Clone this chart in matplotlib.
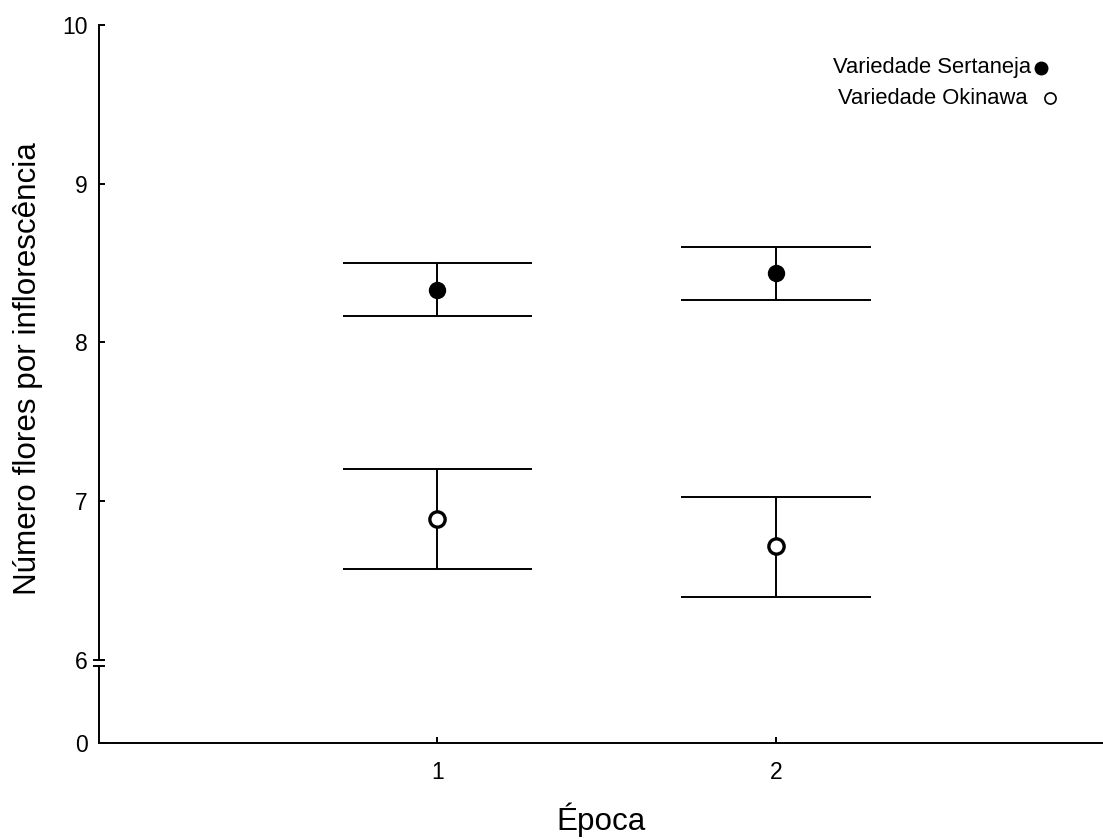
import numpy as np
import matplotlib
matplotlib.use("Agg")
import matplotlib.pyplot as plt

plt.rcParams["font.family"] = ["Liberation Sans", "DejaVu Sans"]

# data
epocas = [1, 2]
sert_mean = [8.33, 8.44]
sert_lo = [8.17, 8.265]
sert_hi = [8.50, 8.60]
oki_mean = [6.89, 6.72]
oki_lo = [6.57, 6.395]
oki_hi = [7.20, 7.025]

# broken y axis: 0 is drawn a bit below 6
Y_ZERO = 5.477
BREAK_GAP = 0.04
CAP_HALF = 0.28
LW = 1.4

fig = plt.figure(figsize=(11.03, 8.39), dpi=100)
ax = fig.add_axes([99 / 1103, 96 / 839, 1 - 99 / 1103, (743 - 25) / 839])

for mean, lo, hi, face, edge_w in [
    (sert_mean, sert_lo, sert_hi, "black", 1.0),
    (oki_mean, oki_lo, oki_hi, "white", 2.4),
]:
    x = np.array(epocas, dtype=float)
    ax.vlines(x, lo, hi, color="black", lw=LW, zorder=2)
    ax.hlines(lo, x - CAP_HALF, x + CAP_HALF, color="black", lw=LW, zorder=2)
    ax.hlines(hi, x - CAP_HALF, x + CAP_HALF, color="black", lw=LW, zorder=2)
    ax.plot(x, mean, "o", ms=11.5 if face == "black" else 11, mfc=face, mec="black",
            mew=edge_w, zorder=3)

ax.set_xlim(0, 2.967)
ax.set_ylim(Y_ZERO, 10)
ax.set_xticks(epocas)
ax.set_xticklabels([str(e) for e in epocas])
ax.set_yticks([Y_ZERO, 6, 7, 8, 9, 10])
ax.set_yticklabels(["0", "6", "7", "8", "9", "10"])
ax.tick_params(axis="y", direction="in", length=4, width=LW, labelsize=16.5, pad=8)
ax.tick_params(axis="x", direction="in", length=4, width=LW, labelsize=16.5, pad=13)

for s in ["top", "right", "left"]:
    ax.spines[s].set_visible(False)
ax.spines["bottom"].set_linewidth(LW)

# left spine with the break near 6
tr = ax.get_yaxis_transform()
ax.plot([0, 0], [Y_ZERO, 6 - BREAK_GAP], color="black", lw=LW, transform=tr, clip_on=False)
ax.plot([0, 0], [6, 10], color="black", lw=LW, transform=tr, clip_on=False)
for yb in [6, 6 - BREAK_GAP]:
    ax.plot([-0.005, 0.005], [yb, yb], color="black", lw=LW, transform=tr, clip_on=False)

ax.set_xlabel("Época", fontsize=22.6, labelpad=13)
ax.set_ylabel("Número flores por inflorescência", fontsize=22.6, labelpad=14)
ax.yaxis.label.set_y(0.521)

# legend: text then marker
fig.text(833 / 1103, 1 - 68 / 839, "Variedade Sertaneja", fontsize=15.8, ha="left", va="center")
fig.text(838 / 1103, 1 - 98 / 839, "Variedade Okinawa", fontsize=15.8, ha="left", va="center")
fig.add_artist(plt.Line2D([1041 / 1103], [1 - 68 / 839], marker="o", ms=9, mfc="black",
                          mec="black", transform=fig.transFigure))
fig.add_artist(plt.Line2D([1050 / 1103], [1 - 98 / 839], marker="o", ms=8, mfc="white",
                          mec="black", mew=1.2, transform=fig.transFigure))

fig.savefig("out.png", dpi=100)
